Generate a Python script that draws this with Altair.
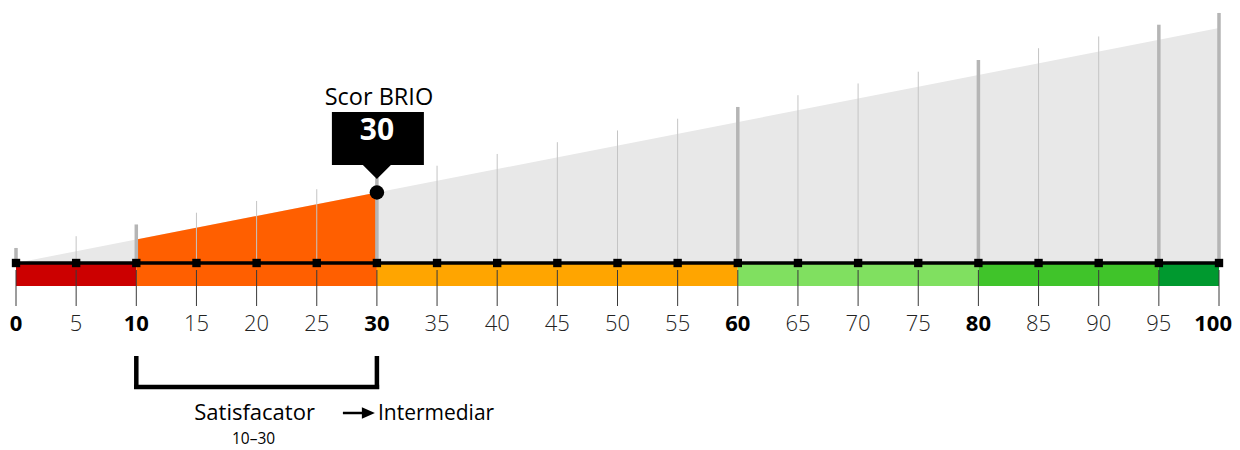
import altair as alt
import pandas as pd

# ---- data ----
tick_values = [0, 5, 10, 15, 20, 25, 30, 35, 40, 45, 50, 55, 60, 65, 70, 75, 80, 85, 90, 95, 100]
major_lines = [0, 10, 30, 60, 80, 95, 100]
bold_labels = [0, 10, 30, 60, 80, 100]
seg_start = [0, 10, 30, 60, 80, 95]
seg_end = [10, 30, 60, 80, 95, 100]
seg_colors = ["#cc0000", "#ff5f00", "#ffa500", "#80e060", "#40c42a", "#00992f"]
score = 30
score_title = "Scor BRIO"
current_level = "Satisfacator"
current_range = "10–30"
next_level = "Intermediar"

FONT = "Open Sans"
LINE_EXTRA = 6.4  # how far the gray guide lines rise above the wedge

last_tick = tick_values[-1]
ticks = pd.DataFrame({
    "v": tick_values,
    "major": [t in major_lines for t in tick_values],
    "bold": [t in bold_labels for t in tick_values],
    "last": [t == last_tick for t in tick_values],
    "label": [str(t) for t in tick_values],
})
segs = pd.DataFrame({"start": seg_start, "end": seg_end, "color": seg_colors})
cur_idx = [i for i in range(len(seg_start)) if seg_start[i] < score <= seg_end[i]][0]
cur_start, cur_end = seg_start[cur_idx], seg_end[cur_idx]
cur_color = seg_colors[cur_idx]

wedge = pd.DataFrame({"x": [tick_values[0], tick_values[-1]]})
wedge_cur = pd.DataFrame({"x": [cur_start, score]})
score_df = pd.DataFrame({"v": [score], "title": [score_title], "txt": [str(score)]})
bracket = pd.DataFrame({"start": [cur_start], "end": [cur_end],
                        "mid": [(cur_start + cur_end) / 2],
                        "name": [current_level], "rng": [current_range],
                        "next": [next_level]})

H = 440
PX = 2.35
xs = alt.Scale(domain=[0, 100], nice=False, zero=False)
ys = alt.Scale(domain=[-(H - 255) / PX, 255 / PX], nice=False, zero=False)

def X(f):
    return alt.X(f, type="quantitative", scale=xs, axis=None)

def Y(f):
    return alt.Y(f, type="quantitative", scale=ys, axis=None)

gray_wedge = alt.Chart(wedge).mark_area(color="#e8e8e8").encode(
    x=X("x"), y=Y("x"), y2=alt.datum(0))
cur_wedge = alt.Chart(wedge_cur).mark_area(color=cur_color).encode(
    x=X("x"), y=Y("x"), y2=alt.datum(0))

thin_lines = alt.Chart(ticks).transform_filter("!datum.major").transform_calculate(
    top=f"datum.v + {LINE_EXTRA}").mark_rule(color="#c4c4c4", strokeWidth=1).encode(
    x=X("v"), y=Y("top"), y2=alt.datum(0))
major_l = alt.Chart(ticks).transform_filter("datum.major").transform_calculate(
    top=f"datum.v + {LINE_EXTRA}").mark_rule(color="#b5b5b5", strokeWidth=3.5).encode(
    x=X("v"), y=Y("top"), y2=alt.datum(0))

bars = alt.Chart(segs).mark_rect().encode(
    x=X("start"), x2="end", y=alt.value(256), y2=alt.value(278),
    color=alt.Color("color:N", scale=None))

dark_lines = alt.Chart(ticks).mark_rule(color="#3a3a3a", strokeWidth=1).encode(
    x=X("v"), y=alt.value(262), y2=alt.value(298))

baseline = alt.Chart(wedge).mark_rule(color="black", strokeWidth=3.5).encode(
    x=alt.X("min(x):Q", scale=xs, axis=None), x2="max(x):Q", y=alt.value(255))

markers = alt.Chart(ticks).mark_point(shape="square", filled=True, color="black",
                                      size=70, opacity=1).encode(
    x=X("v"), y=alt.value(255))

dot = alt.Chart(score_df).mark_point(shape="circle", filled=True, color="black",
                                     size=210, opacity=1).encode(
    x=X("v"), y=Y("v"))

lab_bold = alt.Chart(ticks).transform_filter("datum.bold && !datum.last").mark_text(
    font=FONT, fontSize=22, fontWeight="bold", color="black", baseline="middle").encode(
    x=X("v"), y=alt.value(316), text="label:N")
lab_last = alt.Chart(ticks).transform_filter("datum.last").mark_text(
    font=FONT, fontSize=22, fontWeight="bold", color="black", baseline="middle",
    align="right", dx=13).encode(
    x=X("v"), y=alt.value(316), text="label:N")
lab_norm = alt.Chart(ticks).transform_filter("!datum.bold").mark_text(
    font=FONT, fontSize=22, fontWeight=300, color="#222", baseline="middle").encode(
    x=X("v"), y=alt.value(316), text="label:N")

box = alt.Chart(score_df).mark_rect(color="black", xOffset=-45, x2Offset=47).encode(
    x=X("v"), x2="v", y=alt.value(104), y2=alt.value(157))
pointer = alt.Chart(score_df).mark_point(shape="M-1,-1L1,-1L0,0Z", filled=True,
                                         color="black", size=784, opacity=1).encode(
    x=X("v"), y=alt.value(171))
box_txt = alt.Chart(score_df).mark_text(font=FONT, fontSize=30, fontWeight="bold",
                                        color="white", baseline="middle").encode(
    x=X("v"), y=alt.value(123), text="txt:N")
title_txt = alt.Chart(score_df).mark_text(font=FONT, fontSize=23.5, color="black",
                                          baseline="middle", dx=2).encode(
    x=X("v"), y=alt.value(90), text="title:N")

br_left = alt.Chart(bracket).mark_rule(color="black", strokeWidth=4.5).encode(
    x=X("start"), y=alt.value(348), y2=alt.value(381))
br_right = alt.Chart(bracket).mark_rule(color="black", strokeWidth=4.5).encode(
    x=X("end"), y=alt.value(348), y2=alt.value(381))
br_bottom = alt.Chart(bracket).mark_rule(color="black", strokeWidth=4.5,
                                         xOffset=-2.25, x2Offset=2.25).encode(
    x=X("start"), x2="end", y=alt.value(379))

lvl_txt = alt.Chart(bracket).mark_text(font=FONT, fontSize=22, color="black",
                                       baseline="middle", dx=-2).encode(
    x=X("mid"), y=alt.value(405), text="name:N")
rng_txt = alt.Chart(bracket).mark_text(font=FONT, fontSize=15.5, color="black",
                                       baseline="middle", dx=-3).encode(
    x=X("mid"), y=alt.value(431), text="rng:N")
arrow_line = alt.Chart(bracket).mark_rule(color="black", strokeWidth=2.5,
                                          xOffset=-34, x2Offset=-13).encode(
    x=X("end"), x2="end", y=alt.value(405))
arrow_head = alt.Chart(bracket).mark_point(shape="M-2,-0.9L0,0L-2,0.9Z", filled=True,
                                           color="black", size=169, opacity=1,
                                           xOffset=-2).encode(
    x=X("end"), y=alt.value(405))
next_txt = alt.Chart(bracket).mark_text(font=FONT, fontSize=21, color="black",
                                        align="left", baseline="middle", dx=1).encode(
    x=X("end"), y=alt.value(406), text="next:N")

chart = alt.layer(
    gray_wedge, cur_wedge, thin_lines, major_l, bars, dark_lines, baseline, markers,
    dot, lab_bold, lab_last, lab_norm, pointer, box, box_txt, title_txt,
    br_left, br_right, br_bottom, lvl_txt, rng_txt, arrow_line, arrow_head, next_txt,
).properties(
    width=1203, height=H,
    autosize=alt.AutoSizeParams(type="none"),
    padding={"left": 8, "top": 0, "right": 13, "bottom": 0},
).configure_view(stroke=None)

chart.save("out.html", embed_options={"renderer": "svg", "actions": False})
